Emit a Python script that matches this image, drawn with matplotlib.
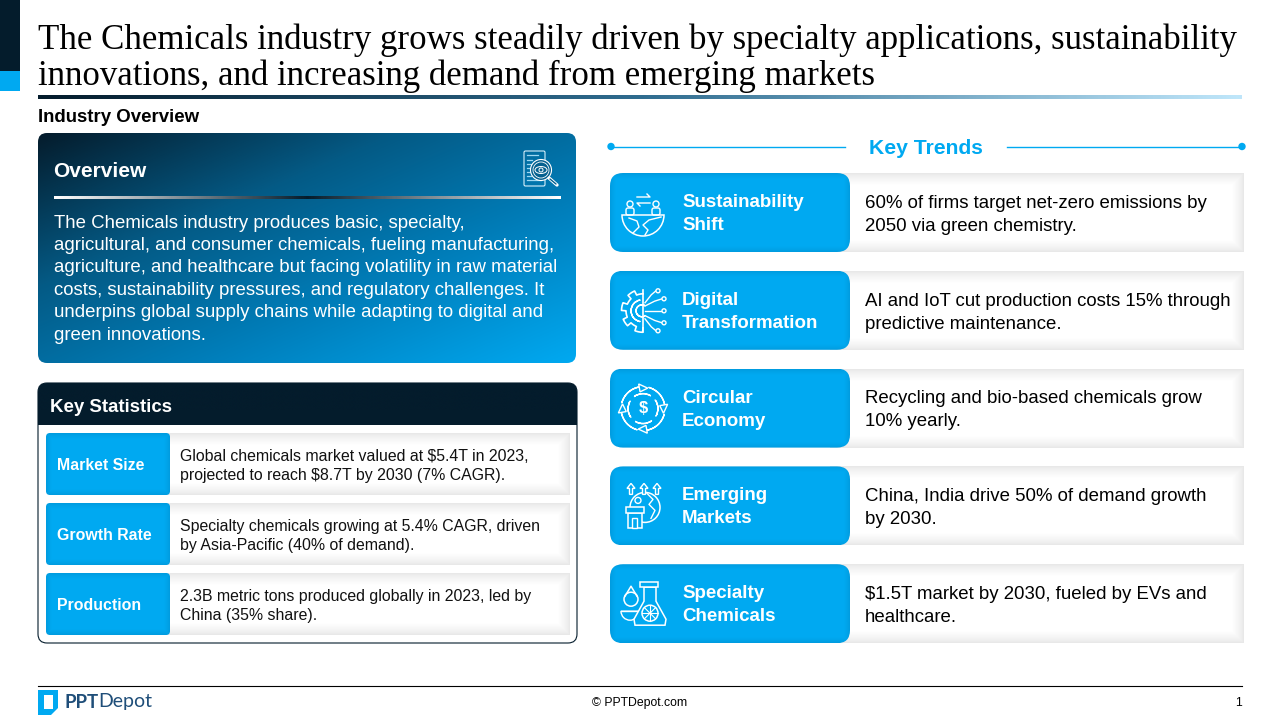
import matplotlib
matplotlib.use("Agg")
import matplotlib.pyplot as plt
import numpy as np
from matplotlib.colors import LinearSegmentedColormap, to_rgb
from matplotlib.patches import FancyBboxPatch, Rectangle, Circle, Polygon, Wedge, Ellipse, FancyArrow

plt.rcParams['font.family'] = ['Liberation Sans', 'DejaVu Sans']

title_lines = ["The Chemicals industry grows steadily driven by specialty applications, sustainability",
               "innovations, and increasing demand from emerging markets"]
section_label = "Industry Overview"
overview_title = "Overview"
overview_lines = ["The Chemicals industry produces basic, specialty,",
                  "agricultural, and consumer chemicals, fueling manufacturing,",
                  "agriculture, and healthcare but facing volatility in raw material",
                  "costs, sustainability pressures, and regulatory challenges. It",
                  "underpins global supply chains while adapting to digital and",
                  "green innovations."]
stats_title = "Key Statistics"
stat_names = ["Market Size", "Growth Rate", "Production"]
stat_texts = [["Global chemicals market valued at $5.4T in 2023,", "projected to reach $8.7T by 2030 (7% CAGR)."],
              ["Specialty chemicals growing at 5.4% CAGR, driven", "by Asia-Pacific (40% of demand)."],
              ["2.3B metric tons produced globally in 2023, led by", "China (35% share)."]]
trends_title = "Key Trends"
trend_names = [["Sustainability", "Shift"], ["Digital", "Transformation"], ["Circular", "Economy"],
               ["Emerging", "Markets"], ["Specialty", "Chemicals"]]
trend_texts = [["60% of firms target net-zero emissions by", "2050 via green chemistry."],
               ["AI and IoT cut production costs 15% through", "predictive maintenance."],
               ["Recycling and bio-based chemicals grow", "10% yearly."],
               ["China, India drive 50% of demand growth", "by 2030."],
               ["$1.5T market by 2030, fueled by EVs and", "healthcare."]]

NAVY = "#041C2C"
BLUE = "#00A9F1"

fig = plt.figure(figsize=(12.8, 7.2), dpi=100)
ax = fig.add_axes([0, 0, 1, 1])
ax.set_xlim(0, 1280)
ax.set_ylim(720, 0)
ax.axis("off")


def round_box(x, y, w, h, r, **kw):
    p = FancyBboxPatch((x + r, y + r), w - 2 * r, h - 2 * r, boxstyle="round,pad=%f,rounding_size=%f" % (r, r), **kw)
    ax.add_patch(p)
    return p


def gradient(x, y, w, h, colors, angle=0, clip=None, z=1):
    n = 300
    xx, yy = np.meshgrid(np.linspace(0, 1, n), np.linspace(0, 1, n))
    if angle == 0:
        g = xx
    elif angle == 90:
        g = yy
    else:
        g = (xx + yy) / 2
    cmap = LinearSegmentedColormap.from_list("g", colors)
    im = ax.imshow(g, extent=(x, x + w, y + h, y), cmap=cmap, aspect="auto", zorder=z, vmin=0, vmax=1)
    if clip is not None:
        im.set_clip_path(clip)
    return im


def inner_shadow(x, y, w, h, base, edge, depth, left=True, clip=None, z=2):
    # soft shadow running in from the edges of a box
    px, py = np.meshgrid(np.arange(int(w)) + 0.5, np.arange(int(h)) + 0.5)
    d = np.minimum(np.minimum(py, h - py), w - px)
    if left:
        d = np.minimum(d, px)
    t = np.clip(d / depth, 0, 1)[..., None] ** 0.7
    img = np.array(to_rgb(edge)) * (1 - t) + np.array(to_rgb(base)) * t
    im = ax.imshow(img, extent=(x, x + w, y + h, y), aspect="auto", zorder=z, interpolation="bilinear")
    if clip is not None:
        im.set_clip_path(clip)
    return im


def lines(x, y, rows, size, step, **kw):
    for i, row in enumerate(rows):
        ax.text(x, y + i * step, row, fontsize=size, va="center", ha="left", **kw)


def blue_box(x, y, w, h, r):
    clip = round_box(x, y, w, h, r, fc="none", ec="none", zorder=3)
    inner_shadow(x, y, w, h, BLUE, "#009ADD", 6, clip=clip, z=3)


def grey_strip(x, y, w, h):
    inner_shadow(x, y, w, h, "#FFFFFF", "#E6E6E6", 12, left=False, z=2)


# header
ax.add_patch(Rectangle((0, 0), 20, 71, fc=NAVY, ec="none"))
ax.add_patch(Rectangle((0, 71), 20, 20, fc=BLUE, ec="none"))
lines(38, 40, title_lines, 25.15, 36, family="Liberation Serif", color="black")
gradient(38, 95, 1204, 4, [NAVY, "#2F6C8F", "#BFE6FA"], angle=0)
ax.text(38, 117, section_label, fontsize=13.4, fontweight="bold", va="center", color="black")

# overview card
clip = round_box(38, 133, 538, 230, 9, fc="none", ec="none")
gradient(38, 133, 538, 230, [NAVY, "#045A85", "#0080BD", BLUE], angle=45, clip=clip)
ax.text(53.5, 171.5, overview_title, fontsize=15, fontweight="bold", color="white", va="center", zorder=4)
gradient(54, 196, 507, 3, ["#FFFFFF", NAVY, "#FFFFFF"], angle=0, z=4)
lines(54, 223, overview_lines, 13.43, 22.4, color="white", zorder=4)

# overview icon, document with magnifier
ax.add_patch(FancyBboxPatch((524, 151), 21, 35, boxstyle="round,pad=0,rounding_size=1.5", fc="none", ec="#D8F0FB", lw=0.8, zorder=5))
for yy, xe in zip((155, 160, 164, 168, 172, 176, 180), (538, 532, 531, 530, 530, 531, 541)):
    ax.plot([527, xe], [yy, yy], color="#9FD8F2", lw=0.9, zorder=5)
ax.add_patch(Circle((541, 170), 10.5, fc="#04608F", ec="white", lw=0.8, zorder=6))
ax.add_patch(Circle((541, 170), 8, fc="none", ec="white", lw=0.6, zorder=6))
ax.add_patch(Ellipse((541, 170), 12, 7, fc="none", ec="white", lw=0.7, zorder=6))
ax.add_patch(Circle((541, 170), 2, fc="none", ec="white", lw=0.7, zorder=6))
ax.plot([549, 557], [178, 185], color="white", lw=2.4, zorder=6, solid_capstyle="round")
ax.plot([550, 556], [179, 184], color="#04608F", lw=1, zorder=6, solid_capstyle="round")

# key statistics card
round_box(38, 383, 539, 260, 9, fc="white", ec=NAVY, lw=0.8, zorder=1)
clip = round_box(38, 383, 539, 42, 9, fc="none", ec="none")
gradient(38, 383, 539, 42, [NAVY, NAVY], angle=0, clip=clip, z=2)
ax.add_patch(Rectangle((38, 410), 539, 15, fc=NAVY, ec="none", zorder=2))
ax.text(50, 407, stats_title, fontsize=13.4, fontweight="bold", color="white", va="center", zorder=4)
for i, name in enumerate(stat_names):
    y = 433 + i * 70
    grey_strip(160, y, 410, 62)
    blue_box(46, y, 124, 62, 4)
    ax.text(57, y + 32, name, fontsize=11.4, fontweight="bold", color="white", va="center", zorder=5)
    lines(180, y + 23.5, stat_texts[i], 11.48, 19, color="#111111", zorder=5)

# key trends heading
ax.plot([611, 845], [146.5, 146.5], color=BLUE, lw=1)
ax.plot([1007, 1242], [146.5, 146.5], color=BLUE, lw=1)
ax.add_patch(Circle((611, 146.5), 3.7, fc=BLUE, ec="none"))
ax.add_patch(Circle((1242, 146.5), 3.7, fc=BLUE, ec="none"))
ax.text(925.5, 148, trends_title, fontsize=15.2, fontweight="bold", color=BLUE, va="center", ha="center")


def icon_globe(cx, cy):
    ax.add_patch(Wedge((cx, cy + 2), 21, 0, 180, fc="none", ec="white", lw=1.1, zorder=5))
    for dx in (-13, 13):
        ax.add_patch(Circle((cx + dx, cy - 9), 3, fc="none", ec="white", lw=1, zorder=5))
        ax.add_patch(FancyBboxPatch((cx + dx - 4, cy - 5), 8, 7, boxstyle="round,pad=0,rounding_size=2", fc="none", ec="white", lw=1, zorder=5))
    ax.plot([cx - 6, cx + 7, cx + 4], [cy - 16, cy - 16, cy - 19], color="white", lw=1, zorder=5)
    ax.plot([cx + 7, cx - 6, cx - 3], [cy - 10, cy - 10, cy - 7], color="white", lw=1, zorder=5)
    ax.plot([cx - 14, cx - 6, cx - 4, cx - 10], [cy + 5, cy + 8, cy + 14, cy + 20], color="white", lw=1, zorder=5)
    ax.plot([cx + 18, cx + 6, cx, cx + 5, cx + 2], [cy + 4, cy + 7, cy + 12, cy + 17, cy + 22], color="white", lw=1, zorder=5)


def icon_gear(cx, cy):
    ang = np.radians(np.arange(90, 271, 1))
    r = 17 + 4.5 * (np.sin(8 * ang) > 0)
    ax.plot(cx + r * np.cos(ang), cy + r * np.sin(ang), color="white", lw=1.2, zorder=5)
    ax.plot([cx, cx], [cy - 21, cy + 21], color="white", lw=1.2, zorder=5)
    ax.add_patch(Wedge((cx - 1, cy), 6, 60, 300, width=0.1, fc="white", ec="white", lw=1, zorder=5))
    ax.add_patch(Wedge((cx - 1, cy), 11, 100, 260, width=0.1, fc="white", ec="white", lw=1, zorder=5))
    ends = [(15, -20), (21, -12), (21, 0), (21, 12), (15, 20)]
    for ex, ey in ends:
        ax.plot([cx + 2, cx + ex * 0.55, cx + ex - 2], [cy + ey * 0.4, cy + ey * 0.8, cy + ey], color="white", lw=1, zorder=5)
        ax.add_patch(Circle((cx + ex, cy + ey), 2, fc=BLUE, ec="white", lw=1, zorder=6))


def icon_circular(cx, cy):
    for a in (15, 105, 195, 285):
        ax.add_patch(Wedge((cx, cy), 22, a, a + 65, width=0.1, fc="white", ec="white", lw=1, zorder=5))
        ax.add_patch(Wedge((cx, cy), 15, a + 40, a + 105, width=0.1, fc="white", ec="white", lw=1, zorder=5))
        t = np.radians(a + 65)
        ax.add_patch(Polygon([(cx + 17 * np.cos(t), cy + 17 * np.sin(t)), (cx + 25 * np.cos(t), cy + 25 * np.sin(t)),
                              (cx + 21 * np.cos(t + 0.4), cy + 21 * np.sin(t + 0.4))], fc=BLUE, ec="white", lw=1, zorder=6))
    ax.text(cx, cy, "$", fontsize=12, fontweight="bold", color="white", ha="center", va="center", zorder=6)


def icon_emerging(cx, cy):
    ax.add_patch(Circle((cx + 2, cy + 1), 15, fc="none", ec="white", lw=1.1, zorder=5))
    ax.plot([cx + 4, cx + 10, cx + 6, cx + 12, cx + 8], [cy - 13, cy - 7, cy - 2, cy + 4, cy + 12], color="white", lw=1, zorder=5)
    ax.add_patch(Circle((cx - 5, cy - 6), 3, fc="none", ec="white", lw=1, zorder=5))
    for dx in (-12, 1, 14):
        ax.add_patch(FancyArrow(cx + dx, cy - 12, 0, -11, width=3, head_width=8, head_length=5, length_includes_head=True, fc=BLUE, ec="white", lw=1, zorder=6))
    ax.add_patch(Rectangle((cx - 15, cy + 7), 14, 15, fc=BLUE, ec="white", lw=1.1, zorder=6))
    ax.add_patch(Rectangle((cx - 17, cy + 1), 18, 6, fc=BLUE, ec="white", lw=1.1, zorder=6))
    ax.add_patch(Rectangle((cx - 11, cy + 12), 5, 10, fc=BLUE, ec="white", lw=1, zorder=6))


def icon_flask(cx, cy):
    ax.add_patch(Wedge((cx - 13, cy + 7), 9, 0, 180, fc="none", ec="white", lw=1, zorder=4.5))
    ax.plot([cx - 22, cx - 4], [cy + 7, cy + 7], color="white", lw=1, zorder=4.5)
    ax.add_patch(Polygon([(cx + 1, cy - 17), (cx + 13, cy - 17), (cx + 13, cy - 3), (cx + 23, cy + 15), (cx + 22, cy + 21),
                          (cx - 8, cy + 21), (cx - 9, cy + 15), (cx + 1, cy - 3)], fc=BLUE, ec="white", lw=1.1, zorder=5))
    ax.add_patch(Rectangle((cx - 3, cy - 22), 18, 5, fc=BLUE, ec="white", lw=1.1, zorder=5))
    ax.add_patch(Circle((cx + 7, cy + 9), 8, fc="none", ec="white", lw=1.1, zorder=5))
    for a in np.radians(np.arange(0, 180, 45)):
        ax.plot([cx + 7 - 8 * np.cos(a), cx + 7 + 8 * np.cos(a)], [cy + 9 - 8 * np.sin(a), cy + 9 + 8 * np.sin(a)], color="white", lw=0.8, zorder=5)
    ax.add_patch(Circle((cx - 12, cy - 5), 7, fc=BLUE, ec="white", lw=1.1, zorder=4.6))
    ax.plot([cx - 18, cx - 12, cx - 6], [cy - 8, cy - 18, cy - 8], color="white", lw=1.1, zorder=4.7)


icons = [icon_globe, icon_gear, icon_circular, icon_emerging, icon_flask]
for i, name in enumerate(trend_names):
    y = 173 + i * 97.8
    grey_strip(830, y, 414, 79)
    blue_box(610, y, 240, 79, 13)
    lines(682, y + 29.5, name, 13.5, 23, fontweight="bold", color="white", zorder=5)
    lines(865, y + 30.3, trend_texts[i], 13.45, 23, color="black", zorder=5)
    icons[i](643, y + 40)

# footer
ax.plot([38, 1242], [685.5, 685.5], color="black", lw=0.8)
ax.add_patch(Polygon([(38, 690), (58, 690), (58, 708), (51, 715), (38, 715)], fc=BLUE, ec="none"))
ax.add_patch(Rectangle((44, 695), 9, 14, fc="white", ec="none"))
ax.text(64, 702, "PPT", fontsize=13.4, fontweight="bold", family="Lato", color="#1F4E79", va="center")
ax.text(98, 702, "Depot", fontsize=14, family="Lato", color="#1F4E79", va="center")
ax.text(640, 703, "© PPTDepot.com", fontsize=8.8, color="black", va="center", ha="center")
ax.text(1242, 703, "1", fontsize=8.8, color="black", va="center", ha="right")

ax.set_xlim(0, 1280)
ax.set_ylim(720, 0)
fig.savefig("out.png", dpi=100)
